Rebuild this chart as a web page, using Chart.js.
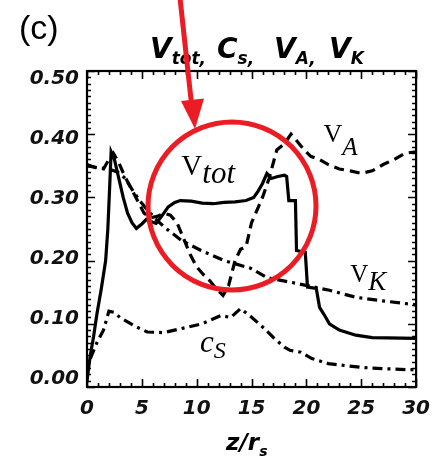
<!DOCTYPE html>
<html>
<head>
<meta charset="utf-8">
<script src="https://cdn.jsdelivr.net/npm/chart.js@4/dist/chart.umd.min.js"></script>
<style>
  html, body { margin: 0; padding: 0; background: #fff; }
  #wrap { width: 440px; height: 463px; }
</style>
</head>
<body>
<div id="wrap"><canvas id="c" width="440" height="463"></canvas></div>
<script>
// Total velocity along the jet axis
const vtotX = [0, 0.3, 0.6, 0.9, 1.3, 1.7, 1.9, 2.05, 2.2, 2.5, 2.9, 3.3, 3.7, 4.1, 4.5, 5.0, 5.4, 5.8, 6.3, 6.8, 7.4, 8.0, 8.5, 9.5, 10.5, 11.5, 12.5, 13.5, 14.5, 15.2, 15.6, 16.0, 16.4, 16.8, 17.4, 18.0, 18.2, 18.4, 19.0, 19.1, 19.9, 20.1, 20.9, 21.2, 21.6, 22.1, 23.0, 24.5, 26.0, 30.0];
const vtotY = [0.01, 0.05, 0.08, 0.115, 0.155, 0.2, 0.25, 0.31, 0.372, 0.36, 0.33, 0.3, 0.275, 0.26, 0.251, 0.258, 0.265, 0.262, 0.259, 0.27, 0.285, 0.292, 0.295, 0.294, 0.291, 0.29, 0.292, 0.293, 0.295, 0.3, 0.31, 0.322, 0.338, 0.33, 0.333, 0.335, 0.333, 0.295, 0.295, 0.216, 0.213, 0.158, 0.156, 0.126, 0.115, 0.1, 0.09, 0.082, 0.078, 0.077];

// Alfven speed
const vaX = [0, 0.8, 1.5, 2.0, 2.4, 2.9, 3.4, 4.0, 4.6, 5.2, 5.8, 6.4, 7.0, 7.6, 8.2, 8.8, 9.4, 10.0, 10.6, 11.2, 11.8, 12.4, 12.9, 13.5, 14.0, 14.5, 15.0, 15.5, 16.0, 16.6, 17.3, 18.0, 18.6, 19.1, 19.8, 20.4, 21.2, 22.0, 23.0, 24.0, 25.0, 26.0, 27.0, 28.0, 29.0, 30.0];
const vaY = [0.352, 0.347, 0.345, 0.36, 0.37, 0.355, 0.335, 0.315, 0.295, 0.275, 0.268, 0.27, 0.275, 0.272, 0.26, 0.235, 0.21, 0.19, 0.178, 0.168, 0.155, 0.145, 0.16, 0.2, 0.218, 0.222, 0.26, 0.28, 0.3, 0.33, 0.375, 0.385, 0.4, 0.39, 0.375, 0.365, 0.36, 0.352, 0.345, 0.342, 0.338, 0.342, 0.352, 0.36, 0.37, 0.372];

// Keplerian speed
const vkX = [0, 1.0, 2.0, 2.8, 3.5, 4.2, 4.8, 5.5, 6.3, 7.2, 8.6, 10.4, 12.5, 14.9, 16.4, 19.1, 22.1, 24.5, 26.6, 30.0];
const vkY = [0.35, 0.347, 0.345, 0.34, 0.33, 0.31, 0.295, 0.28, 0.265, 0.251, 0.232, 0.216, 0.2, 0.188, 0.173, 0.164, 0.153, 0.142, 0.137, 0.13];

// Sound speed
const csX = [0.3, 0.9, 1.5, 2.0, 2.5, 3.0, 3.5, 4.5, 5.5, 7.0, 8.5, 10.5, 12.2, 13.1, 14.0, 14.9, 16.2, 17.0, 18.0, 18.5, 19.5, 20.5, 22.0, 23.5, 25.0, 27.0, 30.0];
const csY = [0.045, 0.07, 0.09, 0.12, 0.118, 0.11, 0.105, 0.095, 0.087, 0.086, 0.092, 0.1, 0.113, 0.11, 0.124, 0.112, 0.092, 0.078, 0.063, 0.058, 0.055, 0.045, 0.037, 0.034, 0.031, 0.029, 0.027];

const xTicks = [0, 5, 10, 15, 20, 25, 30];
const yTicks = [0, 0.1, 0.2, 0.3, 0.4, 0.5];
const xMinorStep = 1;
const yMinorStep = 0.01;

const pts = (xs, ys) => xs.map((x, i) => ({ x, y: ys[i] }));

const tickFont = { family: 'DejaVu Sans', size: 20, weight: 'bold', style: 'italic' };
const RED = '#ec1c24';

// Tick labels on the left axis sit slightly inside the frame ends
const labelInset = 0.0133;

// Box frame with inward major/minor ticks on all four sides
const framePlugin = {
  id: 'frame',
  afterDatasetsDraw(chart) {
    const { ctx, chartArea: a } = chart;
    const xs = chart.scales.x, ys = chart.scales.y;
    ctx.save();
    ctx.strokeStyle = '#000';
    ctx.lineWidth = 1.6;
    ctx.beginPath();
    for (let i = 0; i <= Math.round((xs.max - xs.min) / xMinorStep); i++) {
      const v = xs.min + i * xMinorStep;
      const px = Math.round(xs.getPixelForValue(v)) + 0.5;
      const len = xTicks.includes(v) ? 8 : 4;
      ctx.moveTo(px, a.bottom); ctx.lineTo(px, a.bottom - len);
      ctx.moveTo(px, a.top); ctx.lineTo(px, a.top + len);
    }
    for (let i = 0; i <= Math.round((ys.max - ys.min) / yMinorStep); i++) {
      const v = +(ys.min + i * yMinorStep).toFixed(4);
      const py = Math.round(ys.getPixelForValue(v)) + 0.5;
      const len = yTicks.some(t => Math.abs(t - v) < 1e-6) ? 8 : 4;
      ctx.moveTo(a.left, py); ctx.lineTo(a.left + len, py);
      ctx.moveTo(a.right, py); ctx.lineTo(a.right - len, py);
    }
    ctx.stroke();
    ctx.lineWidth = 2.2;
    ctx.strokeRect(a.left, a.top, a.right - a.left, a.bottom - a.top);
    ctx.restore();
  }
};

function drawSeq(ctx, x, parts) {
  // parts: [text, font, baseline y]
  let cx = x;
  for (const [t, f, y] of parts) {
    ctx.font = f;
    ctx.fillText(t, cx, y);
    cx += ctx.measureText(t).width;
  }
}

const textPlugin = {
  id: 'texts',
  beforeDraw(chart) {
    chart.ctx.letterSpacing = '0px';
  },
  afterDraw(chart) {
    const { ctx } = chart;
    const xs = chart.scales.x, ys = chart.scales.y;
    ctx.save();
    ctx.fillStyle = '#000';
    ctx.textBaseline = 'alphabetic';
    ctx.textAlign = 'left';

    // panel tag
    ctx.font = '34px "Liberation Sans"';
    ctx.fillText('(c)', 19, 39);

    // heading with the four speeds
    const big = 'italic bold 28px "DejaVu Sans"';
    const sub = 'italic bold 17px "DejaVu Sans"';
    drawSeq(ctx, 150, [['V', big, 58], ['tot,', sub, 64]]);
    drawSeq(ctx, 217, [['C', big, 58], ['s,', sub, 64]]);
    drawSeq(ctx, 274, [['V', big, 58], ['A,', sub, 64]]);
    drawSeq(ctx, 329, [['V', big, 58], ['K', sub, 64]]);

    // x axis title
    drawSeq(ctx, 226, [['z/r', 'italic bold 23px "DejaVu Sans"', 450], ['s', 'italic bold 14px "DejaVu Sans"', 456]]);

    // curve labels, anchored in data space
    const at = (x, y) => [xs.getPixelForValue(x), ys.getPixelForValue(y)];
    let p = at(8.6, 0.335);
    drawSeq(ctx, p[0], [['V', '29px "Liberation Serif"', p[1]], ['tot', 'italic 31px "Liberation Serif"', p[1] + 8]]);
    p = at(21.55, 0.387);
    drawSeq(ctx, p[0], [['V', '26px "Liberation Serif"', p[1]], ['A', 'italic 25px "Liberation Serif"', p[1] + 13]]);
    p = at(24.0, 0.166);
    drawSeq(ctx, p[0], [['V', '25px "Liberation Serif"', p[1]], ['K', 'italic 27px "Liberation Serif"', p[1] + 8]]);
    p = at(10.3, 0.055);
    drawSeq(ctx, p[0], [['c', 'italic 31px "Liberation Serif"', p[1]], ['S', 'italic 24px "Liberation Serif"', p[1] + 6]]);

    // red highlight circle and arrow
    ctx.strokeStyle = RED;
    ctx.fillStyle = RED;
    ctx.lineWidth = 5;
    ctx.beginPath();
    ctx.arc(232, 206, 84, 0, Math.PI * 2);
    ctx.stroke();

    ctx.lineWidth = 5;
    ctx.lineCap = 'butt';
    ctx.beginPath();
    ctx.moveTo(180, -2);
    ctx.lineTo(191.5, 104);
    ctx.stroke();
    ctx.beginPath();
    ctx.moveTo(181, 101);
    ctx.lineTo(204, 98.5);
    ctx.lineTo(195, 129);
    ctx.closePath();
    ctx.fill();
    ctx.restore();
  }
};

const lineBase = { borderColor: '#000', borderWidth: 3.2, pointRadius: 0, tension: 0, fill: false, borderCapStyle: 'butt' };

new Chart(document.getElementById('c'), {
  type: 'line',
  data: {
    datasets: [
      Object.assign({ label: 'c_s', data: pts(csX, csY), borderDash: [10, 5, 3, 5] }, lineBase),
      Object.assign({ label: 'v_K', data: pts(vkX, vkY), borderDash: [10, 5, 3, 5] }, lineBase),
      Object.assign({ label: 'v_A', data: pts(vaX, vaY), borderDash: [10, 6] }, lineBase),
      Object.assign({ label: 'v_tot', data: pts(vtotX, vtotY) }, lineBase)
    ]
  },
  options: {
    responsive: false,
    devicePixelRatio: 1,
    animation: false,
    layout: { padding: { top: 71, right: 19, left: 0, bottom: 0 } },
    plugins: { legend: { display: false }, tooltip: { enabled: false } },
    scales: {
      x: {
        type: 'linear', min: 0, max: 30, position: 'bottom',
        grid: { display: false, drawTicks: false },
        border: { display: false },
        afterBuildTicks: s => { s.ticks = xTicks.map(v => ({ value: v })); },
        afterFit: s => { s.height = 76; },
        ticks: { font: tickFont, color: '#111', padding: 10, maxRotation: 0, autoSkip: false, callback: v => String(v) }
      },
      y: {
        type: 'linear', min: 0, max: 0.5, position: 'left', display: false
      },
      yl: {
        type: 'linear', min: -labelInset, max: 0.5 + labelInset, position: 'left',
        grid: { display: false, drawTicks: false },
        border: { display: false },
        afterBuildTicks: s => { s.ticks = yTicks.map(v => ({ value: v })); },
        afterFit: s => { s.width = 87; },
        ticks: { font: tickFont, color: '#111', padding: 8, callback: v => Number(v).toFixed(2) }
      }
    }
  },
  plugins: [framePlugin, textPlugin]
});
</script>
</body>
</html>
